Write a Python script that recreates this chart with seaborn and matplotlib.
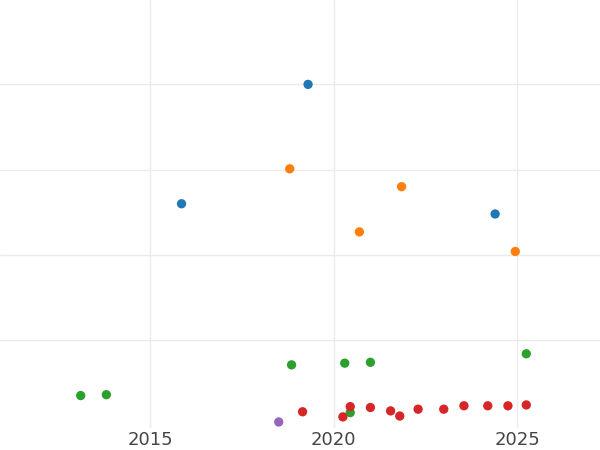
import matplotlib
matplotlib.use("Agg")
import matplotlib.pyplot as plt
import seaborn as sns
import pandas as pd

blue_x = [2015.85, 2019.3, 2024.4]
blue_y = [1.60, 3.0, 1.48]
orange_x = [2018.8, 2020.7, 2021.85, 2024.95]
orange_y = [2.01, 1.27, 1.80, 1.04]
green_x = [2013.1, 2013.8, 2018.85, 2020.3, 2020.45, 2021.0, 2025.25]
green_y = [-0.65, -0.64, -0.29, -0.27, -0.85, -0.26, -0.16]
red_x = [2019.15, 2020.25, 2020.45, 2021.0, 2021.55, 2021.8, 2022.3, 2023.0, 2023.55, 2024.2, 2024.75, 2025.25]
red_y = [-0.84, -0.90, -0.78, -0.79, -0.83, -0.89, -0.81, -0.81, -0.77, -0.77, -0.77, -0.76]
purple_x = [2018.5]
purple_y = [-0.96]

series = [("A", blue_x, blue_y), ("B", orange_x, orange_y), ("C", green_x, green_y),
          ("D", red_x, red_y), ("E", purple_x, purple_y)]
rows = [(n, x, y) for n, xs, ys in series for x, y in zip(xs, ys)]
df = pd.DataFrame(rows, columns=["grp", "x", "y"])

sns.set_theme(style="whitegrid")
fig = plt.figure(figsize=(6, 4.5), dpi=100)
ax = fig.add_axes([0, 0.049, 1, 0.951])
sns.scatterplot(data=df, x="x", y="y", hue="grp", palette=["#1f77b4", "#ff7f0e", "#2ca02c", "#d62728", "#9467bd"],
                s=45, edgecolor="none", legend=False, ax=ax, clip_on=False)
ax.set_xlim(2010.9, 2027.26)
ax.set_ylim(-1.03, 3.99)
ax.set_xticks([2015, 2020, 2025])
ax.set_xticklabels(["2015", "2020", "2025"])
ax.set_yticks([0, 1, 2, 3])
ax.set_yticklabels([])
ax.tick_params(axis="x", labelsize=13, labelcolor="#444444", pad=2, length=0)
ax.tick_params(axis="y", length=0)
ax.grid(color="#ebebeb", linewidth=1)
for s in ax.spines.values():
    s.set_visible(False)
ax.set_xlabel("")
ax.set_ylabel("")
fig.savefig("out.png", dpi=100)
